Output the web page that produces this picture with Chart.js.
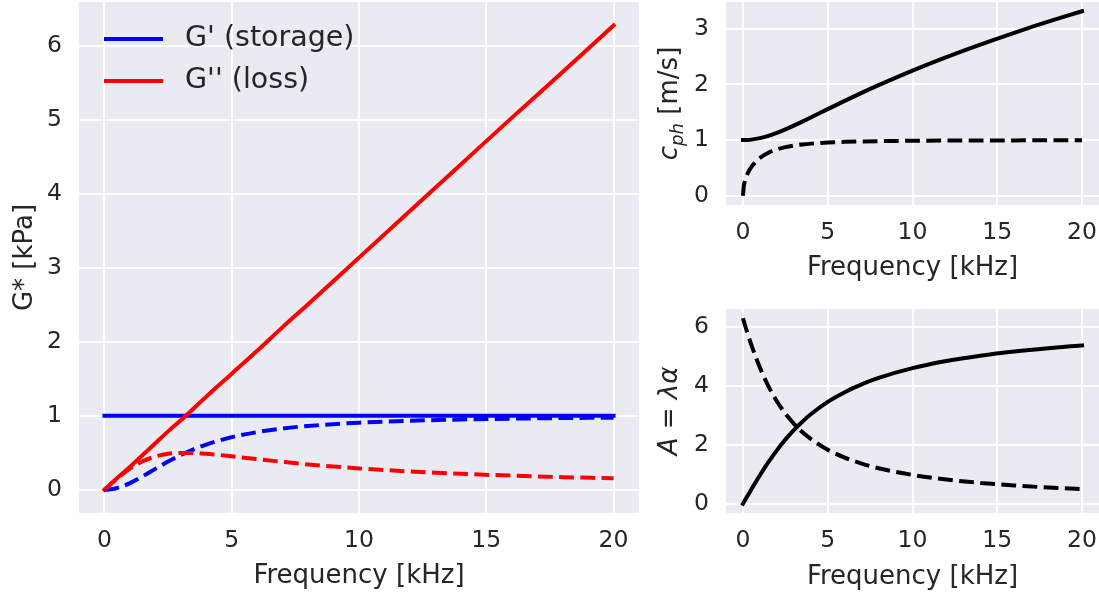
<!DOCTYPE html>
<html>
<head>
<meta charset="utf-8">
<script src="https://cdn.jsdelivr.net/npm/chart.js@4.4.0/dist/chart.umd.min.js"></script>
<style>
  body { margin: 0; background: #fff; }
  #wrap { position: relative; width: 1099px; height: 593px; }
  .box { position: absolute; }
</style>
</head>
<body>
<div id="wrap">
  <div class="box" style="left:0;top:0;width:645px;height:593px"><canvas id="g-chart"></canvas></div>
  <div class="box" style="left:640px;top:0;width:459px;height:296px"><canvas id="c-chart"></canvas></div>
  <div class="box" style="left:640px;top:296px;width:459px;height:297px"><canvas id="a-chart"></canvas></div>
</div>
<script>
// frequency in kHz
const freq = [0, 0.05, 0.1, 0.25, 0.5, 1, 1.5, 2, 2.5, 3, 3.5, 4, 5, 6, 7, 8, 10, 12, 14, 16, 18, 20];

// G* [kPa] - solid (Kelvin-Voigt) and dashed (Maxwell)
const storageSolid = [1, 1, 1, 1, 1, 1, 1, 1, 1, 1, 1, 1, 1, 1, 1, 1, 1, 1, 1, 1, 1, 1];
const lossSolid = [0, 0.016, 0.031, 0.079, 0.16, 0.31, 0.47, 0.63, 0.79, 0.94, 1.10, 1.26, 1.57, 1.88, 2.20, 2.51, 3.14, 3.77, 4.40, 5.03, 5.65, 6.28];
const storageDashed = [0, 0, 0.001, 0.006, 0.024, 0.090, 0.182, 0.283, 0.381, 0.470, 0.547, 0.612, 0.712, 0.780, 0.829, 0.863, 0.908, 0.934, 0.951, 0.962, 0.970, 0.975];
const lossDashed = [0, 0.016, 0.031, 0.078, 0.153, 0.286, 0.385, 0.450, 0.486, 0.499, 0.498, 0.487, 0.453, 0.414, 0.377, 0.343, 0.289, 0.248, 0.216, 0.191, 0.171, 0.155];

// phase velocity [m/s]
const cphSolid = [1, 1.000, 1.000, 1.002, 1.009, 1.036, 1.077, 1.131, 1.193, 1.261, 1.333, 1.407, 1.557, 1.705, 1.849, 1.987, 2.249, 2.492, 2.717, 2.929, 3.128, 3.316];
const cphDashed = [0, 0.176, 0.247, 0.381, 0.518, 0.679, 0.773, 0.833, 0.874, 0.902, 0.922, 0.937, 0.957, 0.969, 0.976, 0.981, 0.988, 0.992, 0.994, 0.995, 0.996, 0.997];

// attenuation per wavelength
const attSolid = [0, 0.049, 0.099, 0.246, 0.490, 0.963, 1.406, 1.809, 2.171, 2.493, 2.780, 3.031, 3.449, 3.779, 4.045, 4.262, 4.594, 4.834, 5.015, 5.157, 5.269, 5.362];
const attDashed = [6.283, 6.186, 6.089, 5.809, 5.373, 4.612, 3.986, 3.473, 3.055, 2.713, 2.429, 2.195, 1.830, 1.563, 1.361, 1.204, 0.976, 0.819, 0.705, 0.619, 0.551, 0.497];

const xTicks = [0, 5, 10, 15, 20];
const gTicks = [0, 1, 2, 3, 4, 5, 6];
const cTicks = [0, 1, 2, 3];
const aTicks = [0, 2, 4, 6];
const legendNames = ["G' (storage)", "G'' (loss)"];

const ink = '#262626';
const fam = 'DejaVu Sans';
const tickSize = 23.5;
Chart.defaults.font.family = fam;
Chart.defaults.color = ink;

const pts = ys => ys.map((y, i) => ({ x: freq[i], y: y }));

function line(ys, color, dashed, order, label) {
    return {
        label: label,
        data: pts(ys),
        borderColor: color,
        borderWidth: 4,
        borderDash: dashed ? [14.8, 6.4] : [],
        borderCapStyle: dashed ? 'butt' : 'square',
        pointRadius: 0,
        cubicInterpolationMode: 'monotone',
        fill: false,
        order: order
    };
}

function xScale(h, titlePad) {
    return {
        type: 'linear', min: -1, max: 21,
        afterBuildTicks: s => { s.ticks = xTicks.map(v => ({ value: v })); },
        afterFit: s => { s.height = h; s.paddingLeft = 0; s.paddingRight = 0; },
        grid: { color: '#ffffff', lineWidth: 2, drawTicks: false },
        border: { display: false },
        ticks: { color: ink, font: { size: tickSize }, padding: 14, maxRotation: 0, autoSkip: false },
        title: { display: true, text: 'Frequency [kHz]', color: ink, font: { size: 26 }, padding: { top: 0, bottom: titlePad } }
    };
}

function yScale(min, max, ticks, w) {
    return {
        type: 'linear', min: min, max: max,
        afterBuildTicks: s => { s.ticks = ticks.map(v => ({ value: v })); },
        afterFit: s => { s.width = w; s.paddingTop = 0; s.paddingBottom = 0; },
        grid: { color: '#ffffff', lineWidth: 2, drawTicks: false },
        border: { display: false },
        ticks: { color: ink, font: { size: tickSize }, padding: 17, autoSkip: false }
    };
}

// seaborn style plot background
const bgPlugin = {
    id: 'bg',
    beforeDraw(chart) {
        const { ctx, chartArea: a } = chart;
        ctx.save();
        ctx.fillStyle = '#EAEAF2';
        ctx.fillRect(a.left, a.top, a.right - a.left, a.bottom - a.top);
        ctx.restore();
    }
};

// y label with mixed italic / subscript parts
const yTitlePlugin = {
    id: 'ytitle',
    afterDraw(chart, args, opts) {
        const { ctx, chartArea: a } = chart;
        const size = 26;
        ctx.save();
        let total = 0;
        const parts = opts.parts.map(p => {
            const s = p.sub ? size * 0.7 : size;
            const font = (p.italic ? 'italic ' : '') + s + 'px "' + fam + '"';
            ctx.font = font;
            const w = ctx.measureText(p.text).width;
            total += w;
            return { text: p.text, sub: p.sub, font: font, w: w, s: s };
        });
        ctx.translate(opts.x, (a.top + a.bottom) / 2);
        ctx.rotate(-Math.PI / 2);
        ctx.fillStyle = ink;
        ctx.textBaseline = 'alphabetic';
        ctx.textAlign = 'left';
        let x = -total / 2;
        const base = size * 0.36;
        for (const p of parts) {
            ctx.font = p.font;
            ctx.fillText(p.text, x, base + (p.sub ? size * 0.22 : 0));
            x += p.w;
        }
        ctx.restore();
    }
};

// legend drawn inside the plot, top left
const legendPlugin = {
    id: 'inlegend',
    afterDraw(chart) {
        const { ctx, chartArea: a } = chart;
        ctx.save();
        ctx.font = '28.5px "' + fam + '"';
        ctx.textBaseline = 'middle';
        let row = 0;
        chart.data.datasets.forEach(ds => {
            if (!ds.label) return;
            const y = a.top + 37 + row * 42;
            ctx.strokeStyle = ds.borderColor;
            ctx.lineWidth = ds.borderWidth;
            ctx.setLineDash([]);
            ctx.beginPath();
            ctx.moveTo(a.left + 25, y);
            ctx.lineTo(a.left + 84, y);
            ctx.stroke();
            ctx.fillStyle = ink;
            ctx.fillText(ds.label, a.left + 106, y);
            row++;
        });
        ctx.restore();
    }
};

function baseOptions(pad, scales, titleParts, titleX) {
    return {
        responsive: true,
        maintainAspectRatio: false,
        animation: false,
        layout: { padding: pad },
        scales: scales,
        plugins: {
            legend: { display: false },
            tooltip: { enabled: false },
            ytitle: { parts: titleParts, x: titleX }
        }
    };
}

new Chart(document.getElementById('g-chart'), {
    type: 'line',
    data: {
        datasets: [
            line(storageSolid, '#0000ff', false, 4, legendNames[0]),
            line(lossSolid, '#ff0000', false, 3, legendNames[1]),
            line(storageDashed, '#0000ff', true, 2),
            line(lossDashed, '#ff0000', true, 1)
        ]
    },
    options: baseOptions({ left: 0, right: 6, top: 2, bottom: 0 },
        { x: xScale(80, 1.4), y: yScale(-0.314, 6.597, gTicks, 79) },
        [{ text: 'G* [kPa]' }], 23),
    plugins: [bgPlugin, yTitlePlugin, legendPlugin]
});

new Chart(document.getElementById('c-chart'), {
    type: 'line',
    data: {
        datasets: [
            line(cphSolid, '#000000', false, 2),
            line(cphDashed, '#000000', true, 1)
        ]
    },
    options: baseOptions({ left: 0, right: 0, top: 2, bottom: 0 },
        { x: xScale(91, 12.4), y: yScale(-0.166, 3.482, cTicks, 86) },
        [{ text: 'c', italic: true }, { text: 'ph', italic: true, sub: true }, { text: ' [m/s]' }], 28),
    plugins: [bgPlugin, yTitlePlugin]
});

new Chart(document.getElementById('a-chart'), {
    type: 'line',
    data: {
        datasets: [
            line(attSolid, '#000000', false, 2),
            line(attDashed, '#000000', true, 1)
        ]
    },
    options: baseOptions({ left: 0, right: 0, top: 13, bottom: 0 },
        { x: xScale(80, 0.4), y: yScale(-0.314, 6.597, aTicks, 86) },
        [{ text: 'A', italic: true }, { text: ' = ' }, { text: 'λα', italic: true }], 28),
    plugins: [bgPlugin, yTitlePlugin]
});
</script>
</body>
</html>
